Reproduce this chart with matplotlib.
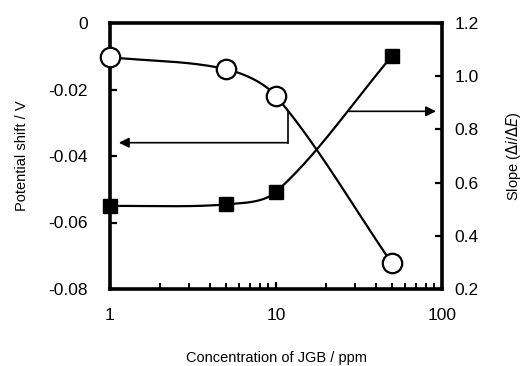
import numpy as np
import matplotlib
matplotlib.use("Agg")
import matplotlib.pyplot as plt
from matplotlib.ticker import FixedLocator, FuncFormatter, LogLocator, NullFormatter

plt.rcParams['font.family'] = ['Liberation Sans', 'DejaVu Sans']

# Data
conc = [1, 5, 10, 50]
potential_shift = [-0.0103, -0.0139, -0.0220, -0.0723]
slope = [0.512, 0.518, 0.565, 1.076]


def smooth(a, xs, ys, n=50, k=0.32):
    """Excel-like smoothed line computed in display space, mapped back to data."""
    pts = a.transData.transform(np.column_stack([xs, ys]))
    m = len(pts)
    tang = []
    for i in range(m):
        d = pts[min(i + 1, m - 1)] - pts[max(i - 1, 0)]
        tang.append(d / np.hypot(*d))
    out = []
    for i in range(m - 1):
        p1, p2 = pts[i], pts[i + 1]
        L = np.hypot(*(p2 - p1))
        b1 = p1 + tang[i] * L * k
        b2 = p2 - tang[i + 1] * L * k
        t = np.linspace(0, 1, n)[:, None]
        seg = ((1 - t) ** 3) * p1 + 3 * ((1 - t) ** 2) * t * b1 + 3 * (1 - t) * t ** 2 * b2 + t ** 3 * p2
        out.append(seg if i == 0 else seg[1:])
    c = np.vstack(out)
    d = a.transData.inverted().transform(c)
    return d[:, 0], d[:, 1]


fig = plt.figure(figsize=(5.26, 3.66), dpi=100)
ax = fig.add_axes([110 / 526, 1 - 289 / 366, 332 / 526, 266 / 366])
ax2 = ax.twinx()

ax.set_xscale('log')
ax.set_xlim(1, 100)
ax.set_ylim(-0.08, 0)
ax2.set_ylim(0.2, 1.2)

# curves
sx, sy = smooth(ax, conc, potential_shift)
ax.plot(sx, sy, color='black', lw=1.6, zorder=4, clip_on=False)
ax.plot(conc, potential_shift, 'o', ms=14, mfc='white', mec='black', mew=1.6,
        zorder=6, clip_on=False)

qx, qy = smooth(ax2, conc, slope)
ax2.plot(qx, qy, color='black', lw=1.6, zorder=4, clip_on=False)
ax2.plot(conc, slope, 's', ms=10, mfc='black', mec='black', zorder=6, clip_on=False)

# arrows
ax.plot([11.8, 11.8], [-0.0267, -0.036], color='black', lw=1.2, zorder=3)
ax.annotate('', xy=(1.13, -0.036), xytext=(11.8, -0.036),
            arrowprops=dict(arrowstyle='-|>', color='black', lw=1.2,
                            mutation_scale=15, shrinkA=0, shrinkB=0))
ax2.annotate('', xy=(92, 0.868), xytext=(27.5, 0.868),
             arrowprops=dict(arrowstyle='-|>', color='black', lw=1.2,
                             mutation_scale=15, shrinkA=0, shrinkB=0))

# spines
for a in (ax, ax2):
    for s in a.spines.values():
        s.set_linewidth(2.6)
ax2.spines['left'].set_visible(False)
ax2.spines['bottom'].set_visible(False)
ax2.spines['top'].set_visible(False)
ax.spines['right'].set_visible(False)

# ticks
left_ticks = [0, -0.02, -0.04, -0.06, -0.08]
ax.yaxis.set_major_locator(FixedLocator(left_ticks))
ax.yaxis.set_major_formatter(FuncFormatter(lambda v, p: '0' if abs(v) < 1e-12 else ('%.2f' % v)))
ax.tick_params(axis='y', direction='in', length=5, width=1.6, labelsize=12.5, pad=16)

right_ticks = [0.2, 0.4, 0.6, 0.8, 1.0, 1.2]
ax2.yaxis.set_major_locator(FixedLocator(right_ticks))
ax2.yaxis.set_major_formatter(FuncFormatter(lambda v, p: '%.1f' % v))
ax2.tick_params(axis='y', direction='in', length=5, width=1.6, labelsize=12.5, pad=9)

ax.xaxis.set_major_locator(LogLocator(base=10, numticks=5))
ax.xaxis.set_minor_locator(LogLocator(base=10, subs=np.arange(2, 10), numticks=10))
ax.xaxis.set_minor_formatter(NullFormatter())
ax.xaxis.set_major_formatter(FuncFormatter(lambda v, p: '%d' % round(v)))
ax.tick_params(axis='x', which='major', direction='in', length=5, width=1.6, labelsize=12.5, pad=14)
ax.tick_params(axis='x', which='minor', direction='in', length=4, width=1.4)

ax.set_ylabel('Potential shift / V', fontsize=10.5, labelpad=14)
ax2.set_ylabel(r'Slope ($\Delta i$/$\Delta E$)', fontsize=10.5, labelpad=18)
ax.set_xlabel('Concentration of JGB / ppm', fontsize=10.5, labelpad=20)

fig.savefig('out.png', dpi=100)
